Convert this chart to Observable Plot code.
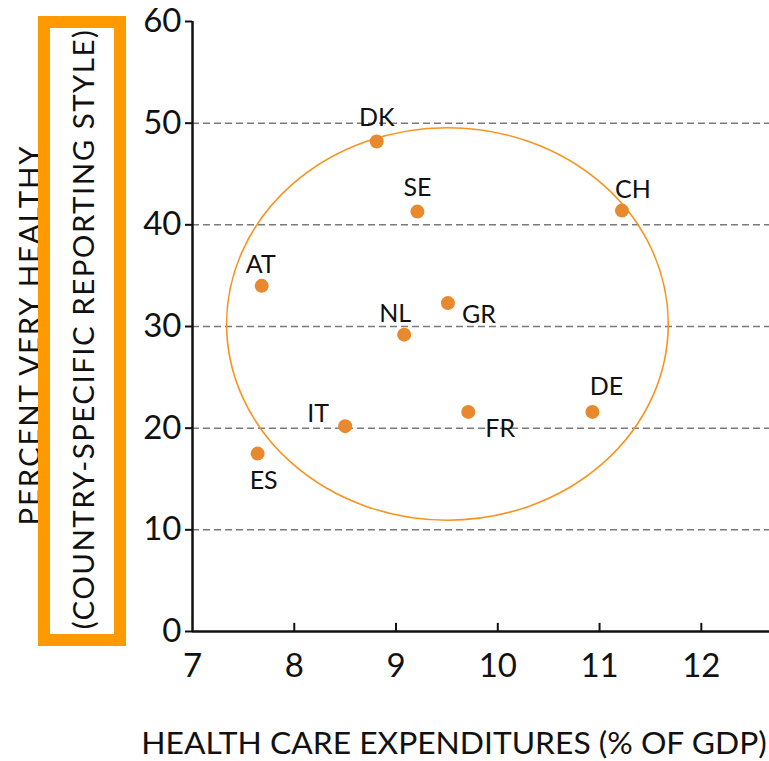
<!DOCTYPE html>
<html><head><meta charset="utf-8">
<script src="https://cdn.jsdelivr.net/npm/d3@7"></script>
<script src="https://cdn.jsdelivr.net/npm/@observablehq/plot@0.6"></script>
<style>body{margin:0;background:#fff;} svg{display:block;}</style>
</head><body><div id="chart"></div>
<script>
const countries   = ["DK","SE","CH","AT","GR","NL","IT","FR","DE","ES"];
const expenditure = [8.81, 9.21, 11.22, 7.68, 9.51, 9.08, 8.50, 9.71, 10.93, 7.64];
const veryHealthy = [48.2, 41.3, 41.4, 34.0, 32.3, 29.2, 20.2, 21.6, 21.6, 17.5];
const xTicks = [7, 8, 9, 10, 11, 12];
const yTicks = [0, 10, 20, 30, 40, 50, 60];
const gridValues = [10, 20, 30, 40, 50];
const ellipseCenter = [9.51, 30.2];
const ellipseRadii = [2.17, 19.3];
const xTitle = "HEALTH CARE EXPENDITURES (% OF GDP)";
const yTitle1 = "PERCENT VERY HEALTHY";
const yTitle2 = "(COUNTRY-SPECIFIC REPORTING STYLE)";

const data = countries.map((c, i) => ({c, x: expenditure[i], y: veryHealthy[i]}));

// label placement (layout only)
const labelOffsets = {DK:[0,-23], SE:[0,-24], CH:[11,-21], AT:[-1,-21], GR:[31,12],
  NL:[-9,-21], IT:[-27,-12], FR:[32,17], DE:[14,-25], ES:[6,27]};

const FONT = "Lato, sans-serif";
const ORANGE_DOT = "#E8892D";
const ORANGE_LINE = "#F7931E";
const ORANGE_BOX = "#FF9900";

const decorations = (index, scales, values, dims) => {
  const g = d3.create("svg:g");
  const cx = scales.x(ellipseCenter[0]), cy = scales.y(ellipseCenter[1]);
  const rx = scales.x(ellipseCenter[0] + ellipseRadii[0]) - cx;
  const ry = cy - scales.y(ellipseCenter[1] + ellipseRadii[1]);
  g.append("ellipse").attr("cx", cx).attr("cy", cy).attr("rx", rx).attr("ry", ry)
    .attr("fill", "none").attr("stroke", ORANGE_LINE).attr("stroke-width", 1.6);
  g.append("text").text(xTitle)
    .attr("x", 454).attr("y", 742).attr("text-anchor", "middle").attr("dominant-baseline", "central")
    .style("font-size", "31.8px").style("font-family", FONT).attr("fill", "#111");
  g.append("text").text(yTitle1)
    .attr("transform", "translate(28,335) rotate(-90)").attr("text-anchor", "middle").attr("dominant-baseline", "central")
    .style("font-size", "29.5px").style("font-family", FONT).style("letter-spacing", "1.8px").attr("fill", "#111");
  g.append("rect").attr("x", 44).attr("y", 22).attr("width", 76).attr("height", 618)
    .attr("fill", "none").attr("stroke", ORANGE_BOX).attr("stroke-width", 12);
  g.append("text").text(yTitle2)
    .attr("transform", "translate(82,329) rotate(-90)").attr("text-anchor", "middle").attr("dominant-baseline", "central")
    .style("font-size", "29.5px").style("font-family", FONT).style("letter-spacing", "1.45px").attr("fill", "#111");
  return g.node();
};

const chart = Plot.plot({
  width: 769, height: 761,
  marginLeft: 192, marginRight: 0, marginTop: 21, marginBottom: 130,
  style: {fontFamily: FONT, background: "#fff", color: "#111"},
  x: {domain: [7, 12.67], ticks: xTicks},
  y: {domain: [0, 60], ticks: yTicks},
  marks: [
    Plot.ruleY(gridValues, {stroke: "#7a7a7a", strokeWidth: 1.5, strokeDasharray: "7,4"}),
    decorations,
    Plot.axisY({ticks: yTicks, tickSize: 7, tickPadding: 4, fontSize: 33, label: null, strokeWidth: 2, tickFormat: d3.format("d")}),
    Plot.axisX({ticks: xTicks, tickSize: 0, tickPadding: 22, fontSize: 33, label: null, tickFormat: d3.format("d")}),
    Plot.ruleX(xTicks.slice(1), {y1: 0, y2: 0.8, stroke: "#111", strokeWidth: 2}),
    Plot.ruleX([7], {y1: 0, y2: 60, stroke: "#111", strokeWidth: 2.5}),
    Plot.ruleY([0], {stroke: "#111", strokeWidth: 2.5}),
    Plot.dot(data, {x: "x", y: "y", r: 7, fill: ORANGE_DOT, stroke: "none"}),
    ...countries.map(c => Plot.text(data.filter(d => d.c === c), {
      x: "x", y: "y", text: "c", dx: labelOffsets[c][0], dy: labelOffsets[c][1],
      fontSize: 25, fill: "#111"
    }))
  ]
});
document.getElementById("chart").append(chart);
</script>
</body></html>
